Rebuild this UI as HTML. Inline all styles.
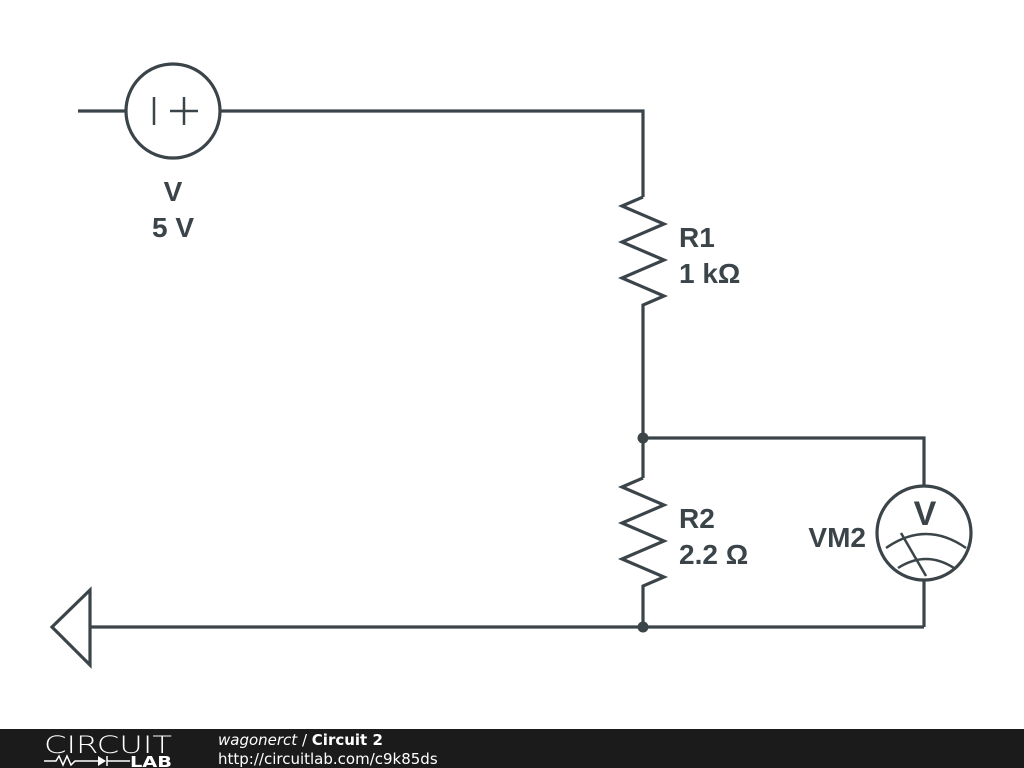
<!DOCTYPE html>
<html><head><style>
html,body{margin:0;padding:0;width:1024px;height:768px;background:#fff;overflow:hidden}
svg{position:absolute;left:0;top:0}
.t{font-family:"Liberation Sans",sans-serif;font-weight:bold;font-size:28px;fill:#3b4449}
</style></head><body>
<svg width="1024" height="768" viewBox="0 0 1024 768">
<g fill="none" stroke="#3b4449" stroke-width="3.2" stroke-linejoin="miter">
<line x1="78" y1="111" x2="126" y2="111"/>
<circle cx="173" cy="111" r="47"/>
<line x1="154" y1="97" x2="154" y2="125" stroke-width="2.5"/>
<line x1="184" y1="97" x2="184" y2="125" stroke-width="2.5"/>
<line x1="170" y1="111" x2="198" y2="111" stroke-width="2.5"/>
<polyline points="220,111 643,111 643,197"/>
<polyline points="643,197 622,206 664,224 622,242 664,260 622,278 664,296 643,305 643,478"/>
<polyline points="643,478 622,487 664,505 622,523 664,541 622,559 664,577 643,586 643,627"/>
<polyline points="643,438 924,438 924,486"/>
<circle cx="924" cy="533" r="47"/>
<line x1="924" y1="580" x2="924" y2="627"/>
<line x1="90" y1="627" x2="924" y2="627"/>
<polygon points="52,627 90,590 90,665"/>
<path d="M886 548 Q926 520 966 548" stroke-width="2.5"/>
<path d="M898 568 Q926 550 954 568" stroke-width="2.5"/>
<line x1="901" y1="533" x2="926" y2="576" stroke-width="2.5"/>
</g>
<circle cx="643" cy="438" r="5.5" fill="#3b4449"/>
<circle cx="643" cy="627" r="5.5" fill="#3b4449"/>
<text x="173" y="201" class="t" text-anchor="middle">V</text>
<text x="173" y="237" class="t" text-anchor="middle">5 V</text>
<text x="679" y="247" class="t">R1</text>
<text x="679" y="283" class="t">1 kΩ</text>
<text x="679" y="528" class="t">R2</text>
<text x="679" y="564" class="t">2.2 Ω</text>
<text x="866" y="547" class="t" text-anchor="end">VM2</text>
<text x="925" y="525" class="t" style="font-size:34px" text-anchor="middle">V</text>
<rect x="0" y="729" width="1024" height="39" fill="#1b1b1b"/>
<text x="44" y="753" font-family="DejaVu Sans,sans-serif" font-size="24" font-weight="200" fill="#fff" textLength="128" lengthAdjust="spacingAndGlyphs">CIRCUIT</text>
<polyline points="44,761 56,761 59,756 63,765 67,756 71,765 75,761 98,761" fill="none" stroke="#fff" stroke-width="1.5"/>
<polygon points="98,756 98,766 106,761" fill="#fff"/>
<line x1="107" y1="756" x2="107" y2="766" stroke="#fff" stroke-width="1.5"/>
<line x1="107" y1="761" x2="130" y2="761" stroke="#fff" stroke-width="1.5"/>
<text x="130" y="767" font-family="DejaVu Sans,sans-serif" font-weight="bold" font-size="15" fill="#fff" textLength="42" lengthAdjust="spacingAndGlyphs">LAB</text>
<text x="218" y="745" font-family="DejaVu Sans,sans-serif" font-size="15" fill="#fff"><tspan font-style="italic">wagonerct</tspan> / <tspan font-weight="bold">Circuit 2</tspan></text>
<text x="218" y="764" font-family="DejaVu Sans,sans-serif" font-size="15" fill="#fff">http://circuitlab.com/c9k85ds</text>
</svg>
</body></html>
